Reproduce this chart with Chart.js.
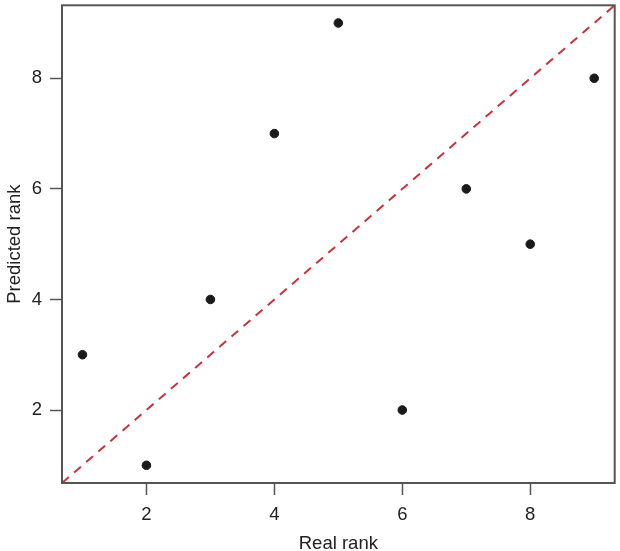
<!DOCTYPE html>
<html>
<head>
<meta charset="utf-8">
<script src="https://cdn.jsdelivr.net/npm/chart.js@4/dist/chart.umd.min.js"></script>
<style>
  html, body { margin: 0; padding: 0; background: #fff; }
  #wrap { width: 620px; height: 551px; }
</style>
</head>
<body>
<div id="wrap"><canvas id="c"></canvas></div>
<script>
var realRank = [1, 2, 3, 4, 5, 6, 7, 8, 9];
var predictedRank = [3, 1, 4, 7, 9, 2, 6, 5, 8];
var tickValues = [2, 4, 6, 8];
var axisMin = 0.68, axisMax = 9.32;

var points = realRank.map(function (r, i) { return { x: r, y: predictedRank[i] }; });

// draws the box round the plot area
var boxPlugin = {
  id: 'box',
  afterDraw: function (chart) {
    var a = chart.chartArea, ctx = chart.ctx;
    ctx.save();
    ctx.strokeStyle = '#555';
    ctx.lineWidth = 2;
    ctx.strokeRect(a.left, a.top, a.right - a.left, a.bottom - a.top);
    ctx.restore();
  }
};

function fixedTicks(scale) {
  scale.ticks = tickValues.map(function (v) { return { value: v }; });
}

var labelFont = { family: 'Liberation Sans', size: 18.5 };

new Chart(document.getElementById('c'), {
  type: 'scatter',
  data: {
    datasets: [{
      type: 'line',
      data: [{ x: axisMin, y: axisMin }, { x: axisMax, y: axisMax }],
      borderColor: '#c8323a',
      borderWidth: 2,
      borderDash: [9, 7],
      pointRadius: 0,
      fill: false
    }, {
      data: points,
      backgroundColor: '#1a1a1a',
      borderColor: '#1a1a1a',
      pointRadius: 4.3,
      pointHoverRadius: 4.3
    }]
  },
  options: {
    responsive: true,
    maintainAspectRatio: false,
    animation: false,
    events: [],
    layout: { padding: { top: 2, right: 2, left: 0, bottom: 0 } },
    plugins: { legend: { display: false }, tooltip: { enabled: false } },
    scales: {
      x: {
        type: 'linear',
        min: axisMin,
        max: axisMax,
        afterBuildTicks: fixedTicks,
        afterFit: function (s) { s.height = 68; s.paddingLeft = 0; s.paddingRight = 0; },
        border: { display: false },
        grid: { drawOnChartArea: false, tickLength: 12, color: '#555', tickWidth: 1.5 },
        ticks: { color: '#222', font: labelFont, padding: 9, maxRotation: 0 },
        title: { display: true, text: 'Real rank', color: '#222', font: labelFont, padding: { top: 0, bottom: -4 } }
      },
      y: {
        type: 'linear',
        min: axisMin,
        max: axisMax,
        afterBuildTicks: fixedTicks,
        afterFit: function (s) { s.width = 62; s.paddingTop = 0; s.paddingBottom = 0; },
        border: { display: false },
        grid: { drawOnChartArea: false, tickLength: 12, color: '#555', tickWidth: 1.5 },
        ticks: { color: '#222', font: labelFont, padding: 8 },
        title: { display: true, text: 'Predicted rank', color: '#222', font: labelFont, padding: { bottom: 2 } }
      }
    }
  },
  plugins: [boxPlugin]
});
</script>
</body>
</html>
